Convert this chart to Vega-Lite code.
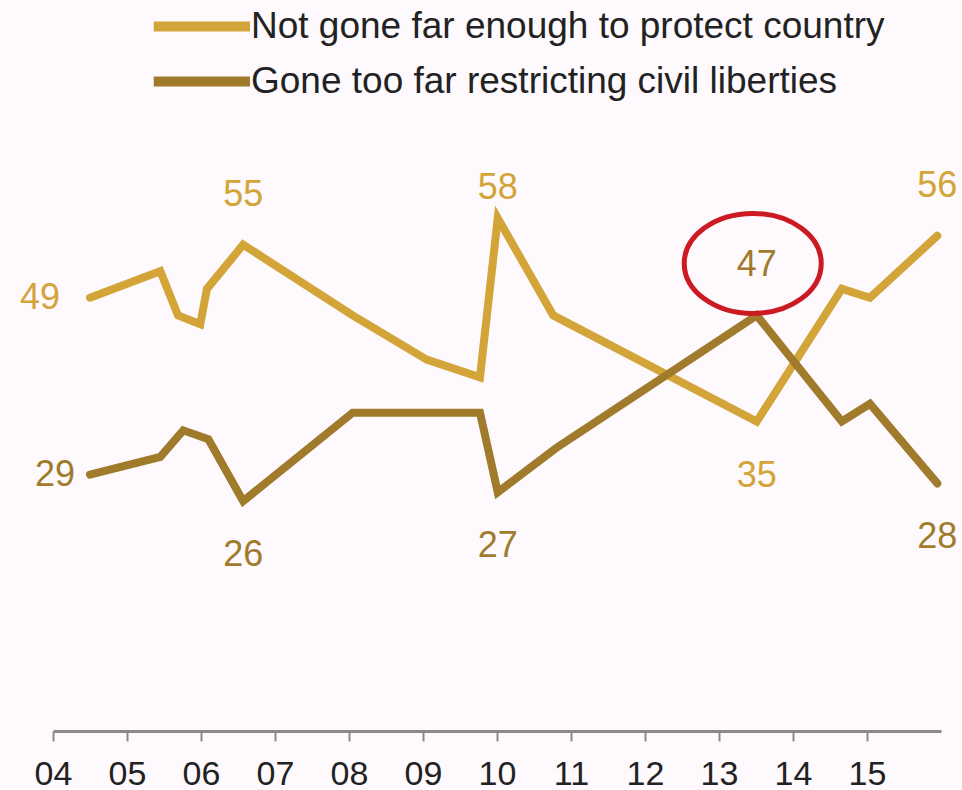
{
  "$schema": "https://vega.github.io/schema/vega-lite/v6.json",
  "width": 888,
  "height": 619,
  "autosize": {"type": "none"},
  "padding": {"left": 53, "top": 112, "right": 21, "bottom": 59},
  "background": "#FDF9FD",
  "config": {"view": {"stroke": null}, "font": "Liberation Sans"},
  "data": {"values": [
    {"date": 2004.5, "series": "Not gone far enough to protect country", "value": 49},
    {"date": 2005.45, "series": "Not gone far enough to protect country", "value": 52},
    {"date": 2005.69, "series": "Not gone far enough to protect country", "value": 47},
    {"date": 2005.99, "series": "Not gone far enough to protect country", "value": 46},
    {"date": 2006.08, "series": "Not gone far enough to protect country", "value": 50},
    {"date": 2006.57, "series": "Not gone far enough to protect country", "value": 55},
    {"date": 2008.05, "series": "Not gone far enough to protect country", "value": 47},
    {"date": 2009.05, "series": "Not gone far enough to protect country", "value": 42},
    {"date": 2009.77, "series": "Not gone far enough to protect country", "value": 40},
    {"date": 2010.01, "series": "Not gone far enough to protect country", "value": 58},
    {"date": 2010.76, "series": "Not gone far enough to protect country", "value": 47},
    {"date": 2013.51, "series": "Not gone far enough to protect country", "value": 35},
    {"date": 2014.66, "series": "Not gone far enough to protect country", "value": 50},
    {"date": 2015.04, "series": "Not gone far enough to protect country", "value": 49},
    {"date": 2015.95, "series": "Not gone far enough to protect country", "value": 56},
    {"date": 2004.5, "series": "Gone too far restricting civil liberties", "value": 29},
    {"date": 2005.45, "series": "Gone too far restricting civil liberties", "value": 31},
    {"date": 2005.76, "series": "Gone too far restricting civil liberties", "value": 34},
    {"date": 2006.1, "series": "Gone too far restricting civil liberties", "value": 33},
    {"date": 2006.57, "series": "Gone too far restricting civil liberties", "value": 26},
    {"date": 2008.05, "series": "Gone too far restricting civil liberties", "value": 36},
    {"date": 2009.05, "series": "Gone too far restricting civil liberties", "value": 36},
    {"date": 2009.77, "series": "Gone too far restricting civil liberties", "value": 36},
    {"date": 2010.01, "series": "Gone too far restricting civil liberties", "value": 27},
    {"date": 2010.8, "series": "Gone too far restricting civil liberties", "value": 32},
    {"date": 2013.51, "series": "Gone too far restricting civil liberties", "value": 47},
    {"date": 2014.66, "series": "Gone too far restricting civil liberties", "value": 35},
    {"date": 2015.04, "series": "Gone too far restricting civil liberties", "value": 37},
    {"date": 2015.95, "series": "Gone too far restricting civil liberties", "value": 28}
  ]},
  "encoding": {
    "x": {"field": "date", "type": "quantitative",
      "scale": {"domain": [2004, 2016], "nice": false, "zero": false},
      "axis": {"title": null, "grid": false, "values": [2004,2005,2006,2007,2008,2009,2010,2011,2012,2013,2014,2015],
        "labelExpr": "substring(toString(datum.value), 2)",
        "domainColor": "#8a8a8a", "domainWidth": 3, "tickColor": "#8a8a8a", "tickWidth": 2, "tickSize": 10,
        "labelFontSize": 34, "labelColor": "#222222", "labelPadding": 16, "labelFlush": false, "labelOverlap": false}},
    "y": {"field": "value", "type": "quantitative", "scale": {"domain": [0, 70], "nice": false}, "axis": null},
    "color": {"field": "series", "type": "nominal",
      "scale": {"domain": ["Not gone far enough to protect country", "Gone too far restricting civil liberties"], "range": ["#D3A437", "#A07B2B"]}}
  },
  "layer": [
    {"mark": {"type": "line", "strokeWidth": 8, "strokeCap": "round", "strokeJoin": "miter"},
     "encoding": {"color": {"field": "series", "type": "nominal",
       "legend": {"title": null, "orient": "none", "legendX": 137, "legendY": -118, "padding": 0,
         "symbolType": "M -2.5 0 H 1", "symbolSize": 3025, "symbolStrokeWidth": 10, "symbolFillColor": "transparent", "rowPadding": 2,
         "labelFontSize": 37, "labelColor": "#222222", "labelOffset": -4, "labelLimit": 800}}}},
    {"transform": [{"filter": "(datum.series[0] == 'N' && (datum.value == 55 || datum.value == 56)) || (datum.series[0] == 'G' && datum.value == 47)"}],
     "mark": {"type": "text", "fontSize": 36, "dy": -50, "baseline": "middle", "align": "center"},
     "encoding": {"text": {"field": "value"}, "color": {"field": "series", "type": "nominal", "legend": null}}},
    {"transform": [{"filter": "datum.series[0] == 'N' && datum.value == 58"}],
     "mark": {"type": "text", "fontSize": 36, "dy": -30, "baseline": "middle", "align": "center"},
     "encoding": {"text": {"field": "value"}, "color": {"field": "series", "type": "nominal", "legend": null}}},
    {"transform": [{"filter": "(datum.series[0] == 'N' && datum.value == 35) || (datum.series[0] == 'G' && (datum.value == 26 || datum.value == 27 || datum.value == 28))"}],
     "mark": {"type": "text", "fontSize": 36, "dy": 54, "baseline": "middle", "align": "center"},
     "encoding": {"text": {"field": "value"}, "color": {"field": "series", "type": "nominal", "legend": null}}},
    {"transform": [{"filter": "datum.date == 2004.5 && datum.series[0] == 'N'"}],
     "mark": {"type": "text", "fontSize": 36, "dx": -30, "baseline": "middle", "align": "right"},
     "encoding": {"text": {"field": "value"}, "color": {"field": "series", "type": "nominal", "legend": null}}},
    {"transform": [{"filter": "datum.date == 2004.5 && datum.series[0] == 'G'"}],
     "mark": {"type": "text", "fontSize": 36, "dx": -15, "baseline": "middle", "align": "right"},
     "encoding": {"text": {"field": "value"}, "color": {"field": "series", "type": "nominal", "legend": null}}},
    {"transform": [{"filter": "datum.series[0] == 'G' && datum.value == 47"}],
     "mark": {"type": "point", "shape": "M -1 0 A 1 0.73 0 1 1 1 0 A 1 0.73 0 1 1 -1 0 Z", "size": 18769,
       "filled": false, "stroke": "#CC1A22", "strokeWidth": 5, "opacity": 1, "yOffset": -52, "xOffset": -4},
     "encoding": {"color": {"value": "#CC1A22"}}}
  ]
}
